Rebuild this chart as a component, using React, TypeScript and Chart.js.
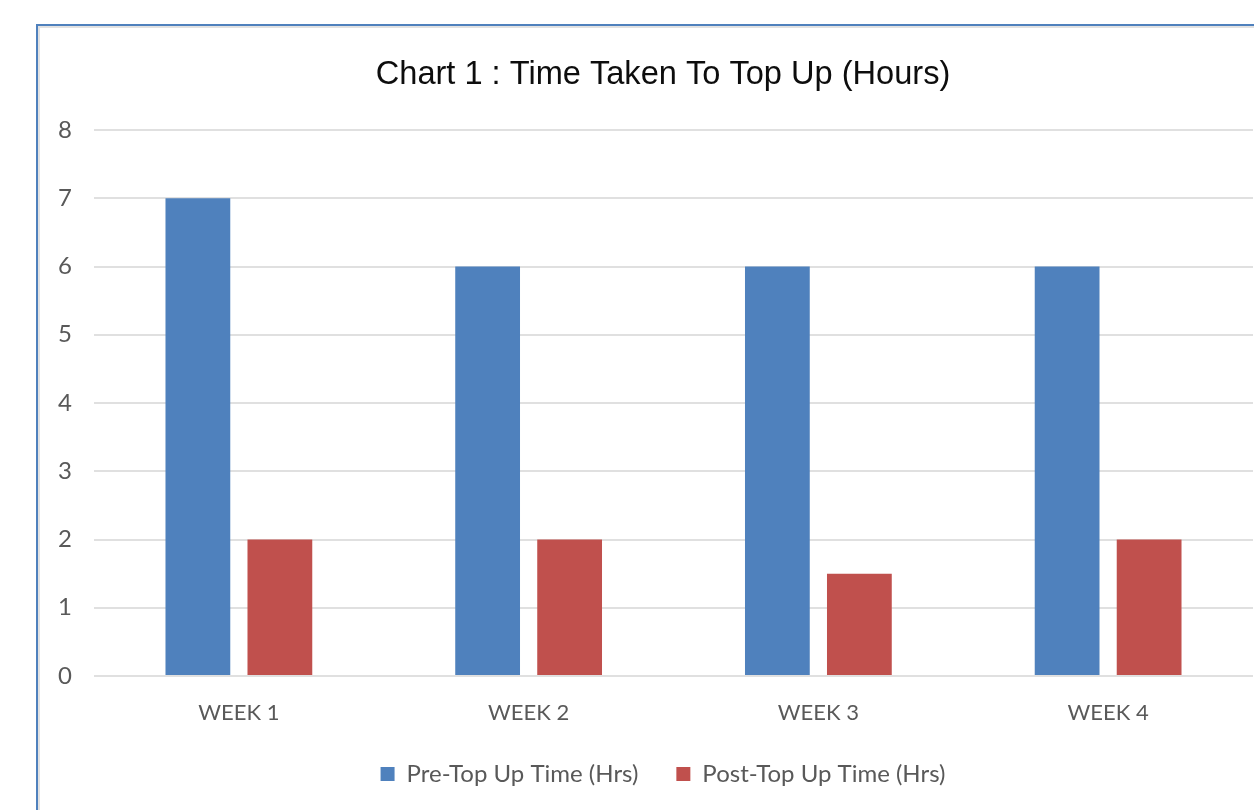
import React, { useEffect, useRef } from "react";
import { Chart, registerables } from "chart.js";

Chart.register(...registerables);

const categories = ["WEEK 1", "WEEK 2", "WEEK 3", "WEEK 4"];
const preTopUp = [7, 6, 6, 6];
const postTopUp = [2, 2, 1.5, 2];
const seriesNames = ["Pre-Top Up Time (Hrs)", "Post-Top Up Time (Hrs)"];
const chartTitle = "Chart 1 : Time Taken To Top Up (Hours)";

const CANVAS_W = 1246;
const CANVAS_H = 768;

export default function App() {
  const ref = useRef<HTMLCanvasElement | null>(null);

  useEffect(() => {
    if (!ref.current) return;
    const chart = new Chart(ref.current, {
      type: "bar",
      data: {
        labels: categories,
        datasets: [
          {
            label: seriesNames[0],
            data: preTopUp,
            backgroundColor: "#4F81BD",
            categoryPercentage: 0.566,
            barPercentage: 0.79,
          },
          {
            label: seriesNames[1],
            data: postTopUp,
            backgroundColor: "#C0504D",
            categoryPercentage: 0.566,
            barPercentage: 0.79,
          },
        ],
      },
      options: {
        responsive: false,
        animation: false,
        devicePixelRatio: 1,
        layout: { padding: 0 },
        plugins: {
          title: {
            display: true,
            text: chartTitle,
            color: "#0d0d0d",
            font: { family: "'Liberation Sans', Arial, sans-serif", size: 32.6, weight: "normal", lineHeight: 1.2 },
            padding: { top: 27.4, bottom: 35.5 },
          },
          legend: {
            display: true,
            position: "bottom",
            labels: {
              color: "#595959",
              font: { family: "Lato, sans-serif", size: 24 },
              boxWidth: 14,
              boxHeight: 14,
              padding: 38,
            },
          },
          tooltip: { enabled: false },
        },
        scales: {
          x: {
            grid: { display: false },
            border: { display: false },
            ticks: {
              color: "#595959",
              font: { family: "Lato, sans-serif", size: 22, lineHeight: 1.0 },
              padding: 18,
            },
            afterFit: (scale: any) => {
              scale.height = 48;
            },
          },
          y: {
            min: 0,
            max: 8,
            border: { display: false },
            grid: { color: "#e0e0e0", lineWidth: 2, drawTicks: false },
            ticks: {
              stepSize: 1,
              color: "#595959",
              font: { family: "Lato, sans-serif", size: 24 },
              padding: 22,
            },
            afterFit: (scale: any) => {
              scale.width = 54;
            },
          },
          yRightSpace: {
            type: "linear",
            position: "right",
            display: true,
            grid: { display: false, drawTicks: false },
            border: { display: false },
            ticks: { display: false },
            afterFit: (scale: any) => {
              scale.width = 33;
            },
          },
        },
      },
    });
    return () => chart.destroy();
  }, []);

  return (
    <div style={{ position: "fixed", left: 0, top: 0, width: "100vw", height: "100vh", overflow: "hidden", background: "#fff" }}>
      <div
        style={{
          position: "absolute",
          left: 36,
          top: 24,
          width: 1400,
          height: 900,
          borderLeft: "2px solid #4F81BD",
          borderTop: "2px solid #4F81BD",
          boxSizing: "border-box",
        }}
      />
      <div
        style={{
          position: "absolute",
          left: 38,
          top: 26,
          width: 1400,
          height: 900,
          borderLeft: "2px solid #e2e2e2",
          borderTop: "2px solid #e2e2e2",
          boxSizing: "border-box",
        }}
      />
      <canvas
        ref={ref}
        width={CANVAS_W}
        height={CANVAS_H}
        style={{ position: "absolute", left: 40, top: 28, width: CANVAS_W, height: CANVAS_H }}
      />
    </div>
  );
}
